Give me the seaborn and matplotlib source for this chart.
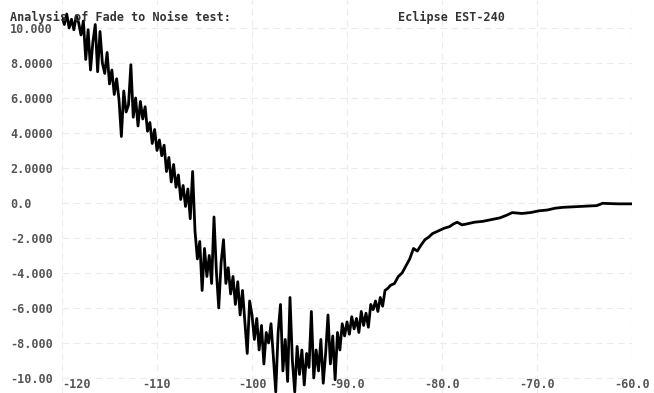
import numpy as np
import pandas as pd
import matplotlib
matplotlib.use("Agg")
import matplotlib.pyplot as plt
import seaborn as sns

# ---- data ----
noisy_start, noisy_step = -120.0, 0.25
noisy_y = [
    10.6, 10.2, 10.8, 10.0,
    10.5, 9.9, 10.7, 10.3,
    9.6, 10.4, 8.2, 9.9,
    7.6, 9.2, 10.2, 7.5,
    9.8, 8.0, 7.4, 8.6,
    6.8, 7.6, 6.2, 7.1,
    5.9, 3.8, 6.4, 5.2,
    5.6, 7.9, 4.9, 6.0,
    4.4, 5.8, 4.8, 5.5,
    4.1, 4.6, 3.4, 4.2,
    3.0, 3.6, 2.7, 3.3,
    1.8, 2.6, 1.2, 2.2,
    0.9, 1.6, 0.2, 1.0,
    -0.2, 0.8, -0.9, 1.8,
    -1.6, -3.2, -2.2, -5.0,
    -2.6, -4.2, -3.0, -4.6,
    -0.8, -3.9, -6.0, -3.4,
    -2.1, -4.6, -3.7, -5.2,
    -4.2, -5.8, -4.5, -6.4,
    -5.0, -6.8, -8.6, -5.6,
    -6.4, -7.8, -6.6, -8.4,
    -7.0, -9.2, -7.4, -8.0,
    -6.9, -8.8, -10.8, -7.4,
    -5.8, -9.6, -7.8, -10.2,
    -5.4, -9.0, -10.8, -8.2,
    -9.8, -8.4, -10.4, -8.6,
    -9.4, -6.2, -10.0, -8.4,
    -9.6, -7.8, -10.3, -8.6,
    -6.4, -9.2, -7.6, -10.1,
    -7.4, -8.4, -6.9, -7.6,
    -6.8, -7.5, -6.5, -7.2,
    -6.6, -7.4, -6.2, -7.0,
    -6.3, -7.1, -5.8, -6.1,
    -5.6, -6.2, -5.4, -5.9,
    -5.0,
]
smooth_x = [-85.75, -85.4, -85.0, -84.6, -84.2, -83.8, -83.4, -83.0, -82.6, -82.2,
            -81.8, -81.4, -81.0, -80.4, -79.8, -79.2, -78.8, -78.4, -77.9, -77.4,
            -76.6, -75.7, -74.8, -73.9, -73.2, -72.6, -71.6, -70.7, -69.8, -68.9,
            -68.1, -67.3, -65.5, -63.7, -63.1, -61.5, -60.0]
smooth_y = [-4.9, -4.7, -4.6, -4.2, -4.0, -3.6, -3.2, -2.6, -2.75, -2.4,
            -2.1, -1.95, -1.75, -1.6, -1.45, -1.35, -1.2, -1.1, -1.25, -1.2,
            -1.1, -1.05, -0.95, -0.85, -0.7, -0.55, -0.6, -0.55, -0.45, -0.4,
            -0.3, -0.25, -0.2, -0.15, -0.02, -0.05, -0.05]

x_ticks = [-120, -110, -100, -90, -80, -70, -60]
x_labels = ["-120", "-110", "-100", "-90.0", "-80.0", "-70.0", "-60.0"]
y_ticks = [10, 8, 6, 4, 2, 0, -2, -4, -6, -8, -10]
y_labels = ["10.000", "8.0000", "6.0000", "4.0000", "2.0000", "0.0",
            "-2.000", "-4.000", "-6.000", "-8.000", "-10.00"]
title_left = "Analysis of Fade to Noise test:"
title_right = "Eclipse EST-240"

noisy_x = noisy_start + noisy_step * np.arange(len(noisy_y))
df = pd.DataFrame({"x": np.concatenate([noisy_x, smooth_x]),
                   "y": np.concatenate([noisy_y, smooth_y])})

sns.set_style("white")
plt.rcParams["font.family"] = ["DejaVu Sans Mono"]

W, H = 654, 393
fig = plt.figure(figsize=(W / 100, H / 100), dpi=100)
ax = fig.add_axes([62 / W, 0, 570 / W, 1])

sns.lineplot(data=df, x="x", y="y", ax=ax, color="black", lw=2.0,
             estimator=None, sort=False)

ax.set_xlim(-120, -60)
ax.set_ylim(-10.86, 11.6)
for s in ax.spines.values():
    s.set_visible(False)

ax.set_xticks(x_ticks)
ax.set_xticklabels(x_labels)
ax.set_yticks(y_ticks)
ax.set_yticklabels(y_labels)
ax.set_xlabel("")
ax.set_ylabel("")
ax.tick_params(axis="both", length=0, labelsize=8.5, labelcolor="#555555")
ax.tick_params(axis="x", pad=-10.5)
ax.tick_params(axis="y", pad=37.4)
for lab in ax.get_yticklabels():
    lab.set_horizontalalignment("left")
    lab.set_fontweight("bold")
for i, lab in enumerate(ax.get_xticklabels()):
    lab.set_fontweight("bold")
    if i == 0:
        lab.set_horizontalalignment("left")

ax.grid(True, color="#ececec", lw=0.8, linestyle=(0, (6, 4)))
ax.set_axisbelow(True)

fig.text(10 / W, 1 - 17 / H, title_left, fontsize=8.5, fontweight="bold",
         color="#333333", va="center", ha="left")
fig.text(398 / W, 1 - 17 / H, title_right, fontsize=8.5, fontweight="bold",
         color="#333333", va="center", ha="left")

fig.savefig("out.png", dpi=100)
